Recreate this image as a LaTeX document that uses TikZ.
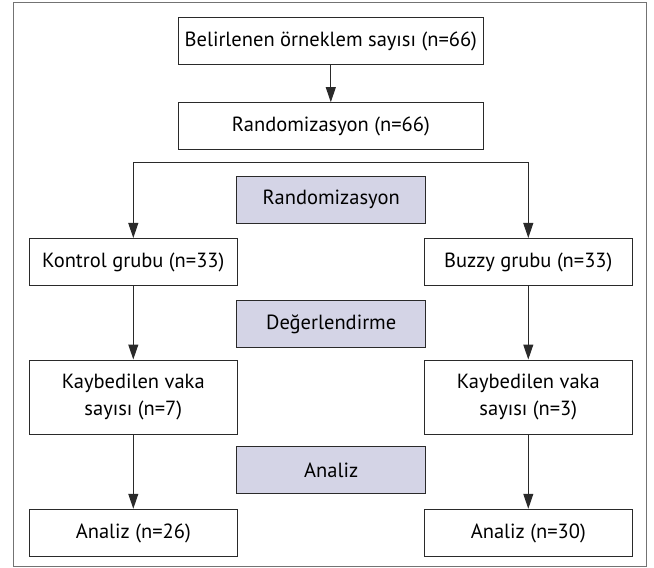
\documentclass[tikz,border=0pt]{standalone}
\usepackage{fontspec}
\setmainfont{PT Sans}
\usetikzlibrary{arrows.meta}
\definecolor{lav}{HTML}{D4D4E6}
\definecolor{ln}{HTML}{2A2A2A}
\begin{document}
\begin{tikzpicture}[x=1pt,y=-1pt,
  box/.style={draw=ln,line width=1pt,rectangle,inner sep=0pt,align=center,font=\fontsize{20.5}{27.5}\selectfont,text=black},
  wide/.style={box,minimum width=305pt,minimum height=47.3pt},
  side/.style={box,minimum width=208.6pt,minimum height=47.5pt},
  shade/.style={box,fill=lav,minimum width=189pt,minimum height=47.3pt},
  arr/.style={draw=ln,line width=1pt,-{Triangle[length=15pt,width=10pt]}}]
\useasboundingbox (0,0) rectangle (654,568);
\draw[draw=gray!90!black,line width=1pt] (13.3,2.7) rectangle (646,566.8);
\node[wide] (b1) at (330.8,41.3) {Belirlenen örneklem sayısı (n=66)};
\node[wide] (b2) at (330.8,126.3) {Randomizasyon (n=66)};
\node[shade] (s1) at (331.2,199.7) {Randomizasyon};
\node[shade] (s2) at (331.2,324.2) {Değerlendirme};
\node[shade] (s3) at (331.2,470) {Analiz};
\node[side] (k1) at (133.3,262.2) {Kontrol grubu (n=33)};
\node[side] (z1) at (528.3,262.2) {Buzzy grubu (n=33)};
\node[side,minimum height=74pt] (k2) at (133.3,397) {Kaybedilen vaka\\sayısı (n=7)};
\node[side,minimum height=74pt] (z2) at (528.3,397) {Kaybedilen vaka\\sayısı (n=3)};
\node[side] (k3) at (133.3,533) {Analiz (n=26)};
\node[side] (z3) at (528.3,533) {Analiz (n=30)};
\coordinate (br) at (330.8,162.7);
\draw[arr] (b1) -- (b2);
\draw[arr] (br) -| (k1.north);
\draw[arr] (br) -| (z1.north);
\draw[arr] (k1) -- (k2);
\draw[arr] (z1) -- (z2);
\draw[arr] (k2) -- (k3);
\draw[arr] (z2) -- (z3);
\end{tikzpicture}
\end{document}
